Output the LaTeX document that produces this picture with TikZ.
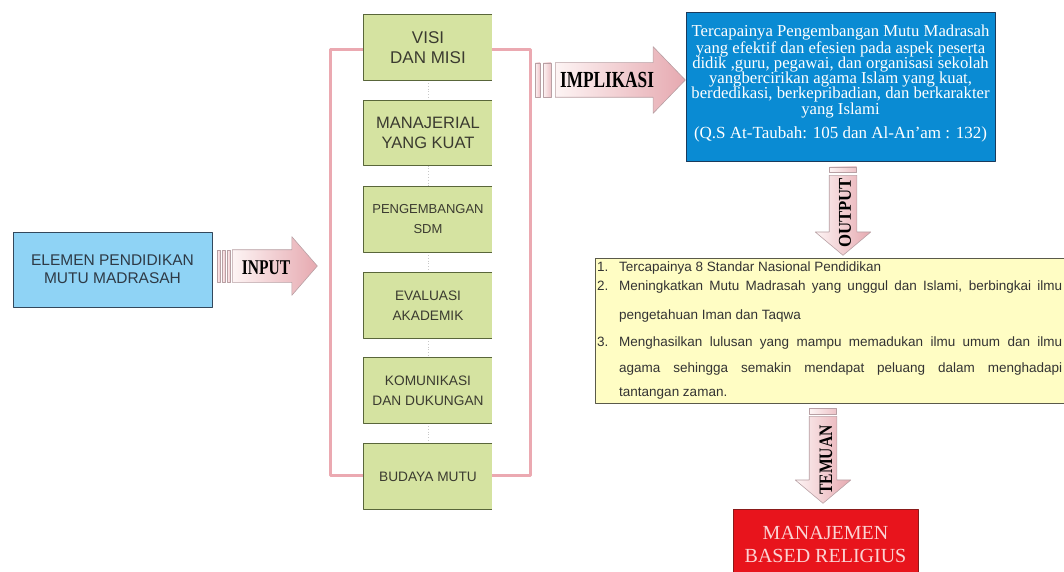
\documentclass[tikz,border=0pt]{standalone}
\usepackage{fontspec}
\setmainfont{Liberation Serif}
\setsansfont{Liberation Sans}
\usepackage{graphicx}
\usepackage{tikz}
\usetikzlibrary{calc,shapes.arrows}
\definecolor{skyfill}{HTML}{8FD3F5}
\definecolor{skyline}{HTML}{33485C}
\definecolor{skytext}{HTML}{2E3A46}
\definecolor{pillarfill}{HTML}{D5E3A1}
\definecolor{pillarline}{HTML}{59663A}
\definecolor{pillartext}{HTML}{3B3B30}
\definecolor{framepink}{HTML}{EBA9B1}
\definecolor{linkgray}{HTML}{C8C8C8}
\definecolor{arrowlight}{HTML}{FDF4F4}
\definecolor{arrowpink}{HTML}{E6A9B0}
\definecolor{arrowline}{HTML}{B8A0A4}
\definecolor{goalfill}{HTML}{0A8BD3}
\definecolor{goalline}{HTML}{1A3A5C}
\definecolor{listfill}{HTML}{FFFDC4}
\definecolor{listline}{HTML}{5A5A4A}
\definecolor{listtext}{HTML}{333333}
\definecolor{findfill}{HTML}{E8141C}
\definecolor{findline}{HTML}{8A1A1A}
\definecolor{findtext}{HTML}{FBD3D3}
\tikzset{
  elem/.style={draw=skyline, fill=skyfill, line width=1pt, minimum width=199pt, minimum height=75pt, align=center, text=skytext, font=\sffamily\fontsize{15.5}{18}\selectfont},
  pillar/.style={fill=pillarfill, minimum width=128pt, minimum height=65pt, align=center, text=pillartext, inner sep=0pt},
  pedge/.style={draw=pillarline, line width=1.1pt},
  frame/.style={draw=framepink, line width=3pt},
  link/.style={draw=linkgray, dotted, line width=0.8pt},
  barrow/.style={single arrow, anchor=tail, draw=arrowline, line width=0.6pt, left color=arrowlight, right color=arrowpink, inner sep=0pt, text depth=0pt},
  arrowlab/.style={inner sep=0pt, text=black, font=\bfseries},
  stripe/.style={draw=arrowline, line width=0.5pt, left color=arrowlight, right color=arrowpink!70},
  goalbox/.style={draw=goalline, fill=goalfill, line width=1pt, minimum width=309pt, minimum height=149pt},
  goaltext/.style={text=white, align=center, inner sep=0pt},
  listbox/.style={draw=listline, fill=listfill, line width=1pt, minimum width=475pt, minimum height=145pt},
  item/.style={anchor=base west, inner sep=0pt, text=listtext, font=\sffamily\fontsize{13.5}{16}\selectfont},
  findbox/.style={draw=findline, fill=findfill, line width=1pt, minimum width=185pt, minimum height=71pt, align=center, text=findtext, font=\fontsize{20}{23}\selectfont}
}

\begin{document}
\begin{tikzpicture}[x=1pt, y=-1pt, line join=round]
  \useasboundingbox (0,0) rectangle (1064,572);
  % frame behind the pillars
  \draw[frame] (330,50) rectangle (530,475);
  \node[elem] (elemen) at (112.5,269.5) {ELEMEN PENDIDIKAN\\MUTU MADRASAH};
  \foreach \i/\y/\s/\t in {1/47.5/17/{VISI\\DAN MISI}, 2/133/16.5/{MANAJERIAL\\YANG KUAT},
      3/219.5/13/{PENGEMBANGAN\\SDM}, 4/305.5/13.7/{EVALUASI\\AKADEMIK},
      5/390.5/13.7/{KOMUNIKASI\\DAN DUKUNGAN}, 6/476.5/13.7/{BUDAYA MUTU}}
    \node[pillar, font=\sffamily\fontsize{\s}{20}\selectfont] (p\i) at (428,\y) {\t};
  \foreach \i in {1,...,5} {
    \pgfmathtruncatemacro\j{\i+1}
    \draw[link] (p\i.south) -- (p\j.north);
  }
  \foreach \i in {1,...,6}
    \draw[pedge] (p\i.north east) -- (p\i.north west) -- (p\i.south west) -- (p\i.south east);

  % block arrows
  \node[barrow, single arrow head extend=13pt, single arrow tip angle=98, minimum height=85pt, text height=32pt] (inarrow) at (232,266) {};
  \foreach \a/\b in {-15/-12,-10/-7,-5/-2}
    \draw[stripe] ($(inarrow.tail)+(\a,-16)$) rectangle ($(inarrow.tail)+(\b,16)$);
  \node[arrowlab] (inlab) at (266,268) {\fontsize{21}{21}\selectfont\scalebox{0.74}[1]{INPUT}};

  \node[barrow, single arrow head extend=16pt, single arrow tip angle=92, minimum height=130pt, text height=34pt] (imparrow) at (555,80) {};
  \foreach \a/\b in {-20/-15,-12/-4}
    \draw[stripe] ($(imparrow.tail)+(\a,-17)$) rectangle ($(imparrow.tail)+(\b,17)$);
  \node[arrowlab] (implab) at (607,80) {\fontsize{23}{23}\selectfont\scalebox{0.75}[1]{IMPLIKASI}};

  \node[goalbox] (goal) at (840.5,87.5) {};
  \node[goaltext, font=\fontsize{16.7}{15.3}\selectfont] (goaltxt) at (840.5,71.5) {Tercapainya Pengembangan Mutu Madrasah\\yang efektif dan efesien pada aspek peserta\\didik ,guru, pegawai, dan organisasi sekolah\\yangbercirikan agama Islam yang kuat,\\berdedikasi, berkepribadian, dan berkarakter\\yang Islami};
  \node[goaltext, font=\fontsize{17}{18}\selectfont] (ayat) at (840.5,134.5) {(Q.S At-Taubah: 105 dan Al-An’am : 132)};

  \node[barrow, rotate=-90, single arrow head extend=14pt, single arrow tip angle=100, minimum height=80pt, text height=27pt] (outarrow) at (843,175) {};
  \draw[stripe] ($(outarrow.tail)+(-13.5,-8)$) rectangle ($(outarrow.tail)+(13.5,-3)$);
  \node[arrowlab, rotate=90] (outlab) at (845,213) {\fontsize{18}{18}\selectfont\scalebox{0.93}[1]{OUTPUT}};

  \node[listbox] (list) at (832.5,330.5) {};
  \node[item] (n1) at (597,271.5) {1.};
  \node[item] (t1) at (619,271.5) {Tercapainya 8 Standar Nasional Pendidikan};
  \node[item] (n2) at (597,290.5) {2.};
  \node[item] (t2) at (619,290.5) {\makebox[443pt][s]{Meningkatkan Mutu Madrasah yang unggul dan Islami, berbingkai ilmu}};
  \node[item] (t2b) at (619,319.5) {pengetahuan Iman dan Taqwa};
  \node[item] (n3) at (597,346.5) {3.};
  \node[item] (t3) at (619,346.5) {\makebox[443pt][s]{Menghasilkan lulusan yang mampu memadukan ilmu umum dan ilmu}};
  \node[item] (t3b) at (619,372.5) {\makebox[443pt][s]{agama sehingga semakin mendapat peluang dalam menghadapi}};
  \node[item] (t3c) at (619,396.5) {tantangan zaman.};

  \node[barrow, rotate=-90, single arrow head extend=14pt, single arrow tip angle=100, minimum height=87pt, text height=27pt] (temarrow) at (823,416) {};
  \draw[stripe] ($(temarrow.tail)+(-13.5,-8)$) rectangle ($(temarrow.tail)+(13.5,-2)$);
  \node[arrowlab, rotate=90] (temlab) at (826,460) {\fontsize{19}{19}\selectfont\scalebox{0.82}[1]{TEMUAN}};

  \node[findbox] (find) at (825.5,544.5) {MANAJEMEN\\BASED RELIGIUS};
\end{tikzpicture}
\end{document}
